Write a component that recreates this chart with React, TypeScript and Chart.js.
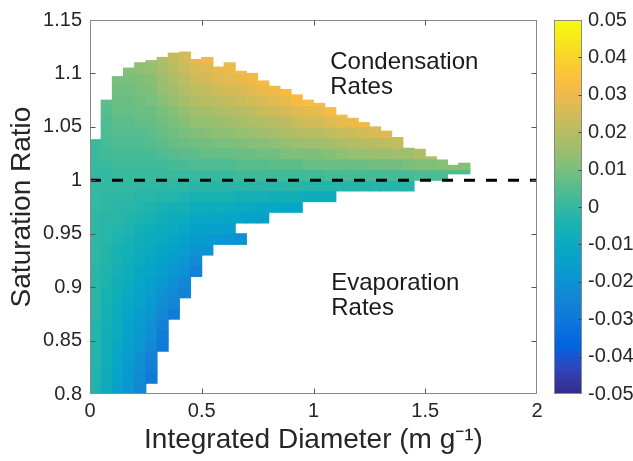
import React, { useEffect, useRef } from 'react';
import { Chart, registerables } from 'chart.js';

Chart.register(...registerables);

// ---- data ----
// centres of the integrated-diameter bins (m g^-1)
const diameterBins = [
  0.025, 0.075, 0.125, 0.175, 0.225, 0.275, 0.325, 0.375, 0.425, 0.475,
  0.525, 0.575, 0.625, 0.675, 0.725, 0.775, 0.825, 0.875, 0.925, 0.975,
  1.025, 1.075, 1.125, 1.175, 1.225, 1.275, 1.325, 1.375, 1.425, 1.475,
  1.525, 1.575, 1.625, 1.675,
];

// saturation-ratio row edges
const satRowEdges = [
  0.80, 0.81, 0.82, 0.83, 0.84, 0.85, 0.86, 0.87, 0.88, 0.89, 0.90,
  0.91, 0.92, 0.93, 0.94, 0.95, 0.96, 0.97, 0.98, 0.99, 1.00, 1.01,
  1.02, 1.03, 1.04, 1.05, 1.06, 1.07, 1.08, 1.09, 1.10, 1.11, 1.12, 1.13,
];

// lowest and highest saturation ratio covered in each diameter bin
const satBottom = [
  0.80, 0.80, 0.80, 0.80, 0.80, 0.81, 0.84, 0.87, 0.89, 0.91,
  0.93, 0.94, 0.94, 0.94, 0.96, 0.96, 0.97, 0.97, 0.97, 0.98,
  0.98, 0.98, 0.99, 0.99, 0.99, 0.99, 0.99, 0.99, 0.99, 1.00,
  1.00, 1.00, 1.006, 1.006,
];
const satTop = [
  1.038, 1.075, 1.097, 1.105, 1.11, 1.112, 1.115, 1.119, 1.12, 1.113,
  1.115, 1.106, 1.11, 1.102, 1.1, 1.093, 1.088, 1.085, 1.08, 1.075,
  1.072, 1.068, 1.061, 1.058, 1.054, 1.05, 1.046, 1.04, 1.03, 1.029,
  1.022, 1.019, 1.014, 1.016,
];

// rates (x 1e-3), per diameter bin, from the bottom row upwards
const rateByColumn: (number | null)[][] = [
  [-4, -4, -3, -3, -3, -3, -3, -2, -2, -2, -2, -2, -1, -1, -1, -1, -1, 0, 0, 0, 0, 1, 1, 1],
  [-9, -8, -8, -7, -7, -7, -6, -6, -5, -5, -4, -4, -3, -3, -2, -2, -2, -1, -1, 0, 0, 1, 2, 3, 4, 4, 5, 6],
  [-14, -13, -12, -12, -11, -10, -9, -9, -8, -7, -7, -6, -5, -5, -4, -3, -2, -2, -1, 0, 1, 2, 3, 4, 5, 6, 7, 8, 9, 10],
  [-19, -18, -17, -16, -15, -14, -13, -12, -11, -10, -9, -8, -7, -6, -5, -4, -3, -2, -1, 0, 1, 2, 3, 4, 5, 6, 7, 8, 9, 10, 12],
  [-24, -23, -22, -21, -19, -18, -17, -16, -14, -13, -12, -11, -9, -8, -7, -6, -4, -3, -2, -1, 1, 2, 3, 4, 5, 7, 8, 9, 10, 11, 13],
  [-29, -27, -26, -24, -22, -21, -19, -18, -16, -15, -13, -12, -10, -9, -7, -5, -4, -2, -1, 1, 2, 3, 5, 6, 7, 8, 10, 11, 12, 14, 15],
  [-29, -28, -26, -24, -22, -20, -18, -16, -14, -12, -10, -9, -7, -5, -3, -1, 1, 2, 4, 6, 7, 9, 10, 12, 14, 15, 17, 18],
  [-28, -25, -23, -21, -19, -17, -14, -12, -10, -8, -6, -3, -1, 1, 3, 5, 7, 9, 10, 12, 14, 16, 18, 20, 22],
  [-26, -24, -21, -19, -16, -14, -11, -9, -6, -4, -1, 1, 3, 6, 8, 10, 12, 14, 17, 19, 21, 23, 25],
  [-26, -23, -20, -17, -14, -11, -8, -5, -2, 1, 4, 6, 9, 11, 14, 16, 19, 21, 24, 26, 29],
  [-20, -17, -14, -11, -8, -5, -2, 1, 4, 7, 9, 12, 14, 17, 20, 22, 25, 27, 30],
  [-18, -14, -11, -8, -5, -2, 1, 4, 7, 10, 13, 15, 18, 21, 24, 27, 29],
  [-19, -15, -12, -9, -5, -2, 1, 4, 7, 10, 13, 16, 19, 22, 25, 28, 30],
  [-21, null, -13, -10, -6, -2, 2, 5, 8, 11, 14, 17, 20, 23, 26, 29, 33],
  [-14, -10, -6, -2, 2, 5, 8, 12, 15, 18, 21, 25, 28, 31],
  [-15, -11, -6, -2, 2, 5, 9, 12, 16, 19, 23, 26, 30, 33],
  [-11, -7, -2, 2, 6, 9, 13, 17, 20, 24, 28, 31],
  [-12, -7, -2, 2, 6, 10, 14, 18, 21, 25, 29, 33],
  [-12, -7, -2, 2, 6, 11, 15, 19, 23, 27, 32],
  [-8, -3, 2, 7, 11, 16, 20, 25, 29, 34],
  [-8, -3, 2, 7, 11, 16, 20, 25, 29, 33],
  [-8, -3, 3, 8, 12, 17, 22, 27, 32],
  [-3, 3, 8, 13, 18, 23, 29, 34],
  [-3, 3, 8, 14, 19, 24, 30],
  [-3, 3, 8, 14, 20, 25, 31],
  [-3, 3, 9, 15, 20, 26],
  [-3, 3, 9, 15, 21, 27],
  [-3, 3, 9, 16, 22],
  [-3, 3, 10, 16],
  [4, 11, 18],
  [4, 11, 19],
  [4, 12],
  [4, 12],
  [4, 12],
];

const saturationLine = [1, 1];
const saturationLineX = [0, 2];
const xTicks = [0, 0.5, 1, 1.5, 2];
const yTicks = [0.8, 0.85, 0.9, 0.95, 1, 1.05, 1.1, 1.15];
const colorTicks = [-0.05, -0.04, -0.03, -0.02, -0.01, 0, 0.01, 0.02, 0.03, 0.04, 0.05];
const annotationLines = [
  ['Condensation', 'Rates'],
  ['Evaporation', 'Rates'],
];

// ---- parula colormap ----
const PARULA: number[][] = [
  [0.2081, 0.1663, 0.5292], [0.1959, 0.2645, 0.7279], [0.0117, 0.3875, 0.882],
  [0.0498, 0.4586, 0.8641], [0.0793, 0.52, 0.8312], [0.0343, 0.5966, 0.8199],
  [0.0228, 0.6535, 0.7768], [0.0843, 0.6928, 0.7062], [0.2178, 0.725, 0.6193],
  [0.3953, 0.7459, 0.5244], [0.5709, 0.7485, 0.4494], [0.7184, 0.7411, 0.3905],
  [0.8507, 0.7299, 0.336], [0.9739, 0.7314, 0.2666], [0.988, 0.8066, 0.1794],
  [0.9598, 0.9218, 0.0948], [0.9763, 0.9831, 0.0538],
];
const PARULA_POS = [0, 4, 8, 12, 16, 20, 24, 28, 32, 36, 40, 44, 48, 52, 56, 60, 63].map((i) => i / 63);
const CMIN = -0.05;
const CMAX = 0.05;

function parula(t: number): string {
  const tt = Math.max(0, Math.min(1, t));
  let i = 0;
  while (i < PARULA_POS.length - 2 && tt > PARULA_POS[i + 1]) i++;
  const f = (tt - PARULA_POS[i]) / (PARULA_POS[i + 1] - PARULA_POS[i]);
  const a = PARULA[i];
  const b = PARULA[i + 1];
  const c = a.map((v, k) => Math.round((v + (b[k] - v) * f) * 255));
  return `rgb(${c[0]},${c[1]},${c[2]})`;
}
const colorFor = (v: number) => parula((v - CMIN) / (CMAX - CMIN));

const FONT = '"Liberation Sans", Arial, Helvetica, sans-serif';
const fmt = (v: number) => String(Math.round(Number(v) * 100) / 100);

function buildCells() {
  const cells: { x: number; y: [number, number]; v: number }[] = [];
  diameterBins.forEach((d, c) => {
    let r0 = 0;
    while (r0 + 1 < satRowEdges.length && satRowEdges[r0 + 1] <= satBottom[c] + 1e-9) r0++;
    rateByColumn[c].forEach((v, k) => {
      if (v === null) return;
      const r = r0 + k;
      const lo = Math.max(satRowEdges[r], satBottom[c]);
      const hi = Math.min(satRowEdges[r + 1], satTop[c]);
      if (hi <= lo) return;
      cells.push({ x: d, y: [lo, hi], v: v / 1000 });
    });
  });
  return cells;
}

const decorPlugin = {
  id: 'decor',
  afterDatasetsDraw(chart: any) {
    const { ctx, chartArea: a, scales } = chart;
    const xs = scales.x;
    const ys = scales.y;
    const cb = scales.cb;
    ctx.save();

    // annotations
    ctx.fillStyle = '#1a1a1a';
    ctx.font = `24px ${FONT}`;
    ctx.textAlign = 'left';
    ctx.textBaseline = 'alphabetic';
    const annX = xs.getPixelForValue(1.075);
    const condY = [1.104, 1.0806];
    const evapY = [0.897, 0.8735];
    annotationLines[0].forEach((t, i) => ctx.fillText(t, annX, ys.getPixelForValue(condY[i])));
    annotationLines[1].forEach((t, i) => ctx.fillText(t, annX + 1, ys.getPixelForValue(evapY[i])));

    // box
    ctx.strokeStyle = '#8a8a8a';
    ctx.lineWidth = 1;
    const L = Math.round(a.left) + 0.5;
    const R = Math.round(a.right) - 0.5;
    const T = Math.round(a.top) + 0.5;
    const B = Math.round(a.bottom) - 0.5;
    ctx.strokeRect(L, T, R - L, B - T);

    // inward ticks
    ctx.strokeStyle = '#555';
    ctx.beginPath();
    xTicks.forEach((v) => {
      const px = Math.round(xs.getPixelForValue(v)) + 0.5;
      if (px <= L + 1 || px >= R - 1) return;
      ctx.moveTo(px, B); ctx.lineTo(px, B - 5);
      ctx.moveTo(px, T); ctx.lineTo(px, T + 5);
    });
    yTicks.forEach((v) => {
      const py = Math.round(ys.getPixelForValue(v)) + 0.5;
      if (py <= T + 1 || py >= B - 1) return;
      ctx.moveTo(L, py); ctx.lineTo(L + 5, py);
      ctx.moveTo(R, py); ctx.lineTo(R - 5, py);
    });
    ctx.stroke();

    // colour bar
    const cL = Math.round(a.right) + 17;
    const cR = Math.round(a.right) + 45;
    const cT = Math.round(cb.getPixelForValue(CMAX));
    const cB = Math.round(cb.getPixelForValue(CMIN));
    const g = ctx.createLinearGradient(0, cB, 0, cT);
    PARULA_POS.forEach((p, i) => {
      const c = PARULA[i].map((v) => Math.round(v * 255));
      g.addColorStop(p, `rgb(${c[0]},${c[1]},${c[2]})`);
    });
    ctx.fillStyle = g;
    ctx.fillRect(cL, cT, cR - cL, cB - cT);
    ctx.strokeStyle = '#8a8a8a';
    ctx.strokeRect(cL + 0.5, cT + 0.5, cR - cL - 1, cB - cT - 1);
    ctx.strokeStyle = '#444';
    ctx.beginPath();
    colorTicks.forEach((v) => {
      const py = Math.round(cb.getPixelForValue(v)) + 0.5;
      if (py <= cT + 1 || py >= cB - 1) return;
      ctx.moveTo(cR - 0.5, py); ctx.lineTo(cR - 3.5, py);
    });
    ctx.stroke();
    ctx.restore();
  },
};

export default function App() {
  const ref = useRef<HTMLCanvasElement>(null);
  useEffect(() => {
    Chart.defaults.font.family = FONT;
    const cells = buildCells();
    const chart = new Chart(ref.current as HTMLCanvasElement, {
      type: 'bar',
      data: {
        datasets: [
          {
            type: 'line',
            data: saturationLineX.map((x, i) => ({ x, y: saturationLine[i] })),
            borderColor: '#000',
            borderWidth: 3,
            borderDash: [11, 11],
            pointRadius: 0,
            fill: false,
            order: 0,
          } as any,
          {
            type: 'bar',
            data: cells as any,
            backgroundColor: (ctx: any) => (ctx.raw ? colorFor(ctx.raw.v) : 'transparent'),
            borderWidth: 0,
            barPercentage: 1,
            categoryPercentage: 1,
            grouped: false,
            inflateAmount: 0.5,
            order: 1,
          } as any,
        ],
      },
      plugins: [decorPlugin],
      options: {
        responsive: false,
        animation: false,
        events: [],
        layout: { padding: { top: 20, left: 0, right: 0, bottom: 0 } },
        plugins: { legend: { display: false }, tooltip: { enabled: false } },
        scales: {
          x: {
            type: 'linear',
            min: 0,
            max: 2,
            offset: false,
            grid: { display: false, drawTicks: false },
            border: { display: false },
            afterBuildTicks: (s: any) => { s.ticks = xTicks.map((value) => ({ value })); },
            ticks: {
              padding: 5,
              color: '#262626',
              font: { size: 20 },
              maxRotation: 0,
              autoSkip: false,
              callback: (v: any) => fmt(v),
            },
            title: {
              display: true,
              text: 'Integrated Diameter (m g⁻¹)',
              color: '#262626',
              font: { size: 28 },
              padding: { top: 0, bottom: 4 },
            },
            afterFit: (s: any) => { s.height = 67; s.paddingLeft = 0; s.paddingRight = 0; },
          },
          y: {
            type: 'linear',
            min: 0.8,
            max: 1.15,
            grid: { display: false, drawTicks: false },
            border: { display: false },
            afterBuildTicks: (s: any) => { s.ticks = yTicks.map((value) => ({ value })); },
            ticks: {
              padding: 8,
              color: '#262626',
              font: { size: 20 },
              autoSkip: false,
              callback: (v: any) => fmt(v),
            },
            title: {
              display: true,
              text: 'Saturation Ratio',
              color: '#262626',
              font: { size: 28 },
              padding: { top: 5, bottom: 0 },
            },
            afterFit: (s: any) => { s.width = 90; s.paddingTop = 10; s.paddingBottom = 10; },
          },
          cb: {
            type: 'linear',
            position: 'right',
            min: CMIN,
            max: CMAX,
            grid: { display: false, drawTicks: false },
            border: { display: false },
            afterBuildTicks: (s: any) => { s.ticks = colorTicks.map((value) => ({ value })); },
            ticks: {
              padding: 51,
              color: '#262626',
              font: { size: 20 },
              autoSkip: false,
              callback: (v: any) => fmt(v),
            },
            afterFit: (s: any) => { s.width = 96; s.paddingTop = 10; s.paddingBottom = 10; },
          },
        },
      } as any,
    });
    return () => chart.destroy();
  }, []);
  return (
    <div style={{ position: 'fixed', left: 0, top: 0, width: 633, height: 461, background: '#fff' }}>
      <canvas ref={ref} width={633} height={461} style={{ display: 'block', width: 633, height: 461 }} />
    </div>
  );
}
